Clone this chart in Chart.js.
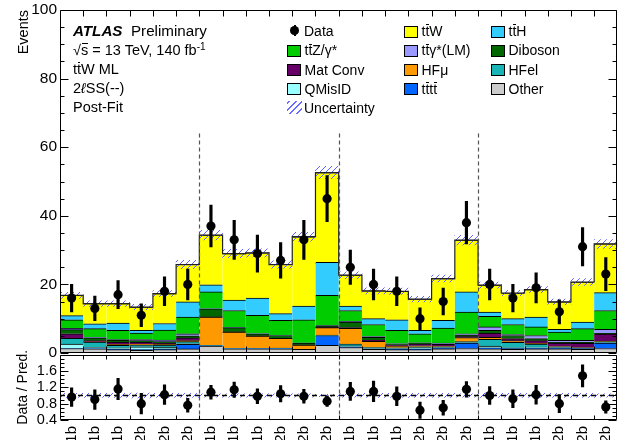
<!DOCTYPE html>
<html><head><meta charset="utf-8">
<script src="https://cdn.jsdelivr.net/npm/chart.js@4.4.1/dist/chart.umd.min.js"></script>
<style>
html,body{margin:0;padding:0;overflow:hidden;background:#fff;width:619px;height:440px}
#wrap{position:relative;width:619px;height:440px;overflow:hidden;background:#fff}
canvas{position:absolute;left:0}
.t{position:absolute;font-family:"Liberation Sans",Arial,sans-serif;font-size:14.5px;line-height:14.5px;color:#000;white-space:nowrap}
.ob{position:relative;display:inline-block}
.ob::after{content:"";position:absolute;left:0.04em;right:0.04em;top:0.02em;border-top:1px solid #000}
.box{position:absolute;width:14px;height:12px;border:1px solid #000;box-sizing:border-box}
</style></head>
<body><div id="wrap">
<canvas id="main" width="622" height="365" style="top:0"></canvas>
<canvas id="ratio" width="622" height="120" style="top:350px"></canvas>
<div id="overlay"></div>
</div>
<script>
// ---------------- data ----------------
const categories = ["1b","1b","1b","2b","2b","2b","1b","1b","1b","2b","2b","2b","1b","1b","1b","2b","2b","2b","1b","1b","1b","2b","2b","2b"];
const regionEdges = [6, 12, 18];
const other   = [1.3,1.2,1.0,0.8,1.0,1.2, 2.0,1.2,1.2,1.2,1.1,2.2, 1.6,1.1,1.0,1.0,1.2,1.3, 1.2,1.1,1.2,1.2,1.1,1.3];
const tttt    = [0,0,0.2,0.2,0.2,1.3, 0,0,0,0,0,2.9, 0.2,0.1,0.1,0.2,0.2,1.6, 0.3,0.2,0.2,0.2,0.2,1.6];
const qmisid  = [1.3,0.4,0.3,0.8,0.5,0.2, 0,0,0,0,0,0, 0.3,0.2,0.2,0.4,0.2,0.1, 0.5,0.2,0.3,0.2,0.1,0.1];
const hfel    = [1.7,1.6,0.7,0.6,0.6,0.6, 0.2,0,0.1,0.2,0,0.1, 0.5,0.2,0.2,0.2,0.2,0.3, 2.0,1.6,0.9,0.2,0.1,0.3];
const hfmu    = [0,0,0.3,0.2,0.2,0.3, 8.3,4.9,3.6,2.9,1.2,2.2, 4.6,1.8,0.6,0.3,0.2,1.2, 0.6,0.5,0.2,0.1,0.1,0.2];
const matconv = [1.3,0.4,0.7,0.6,0.4,0.8, 0,0,0,0,0,0, 0.2,0.4,0.3,0.6,0.5,0.3, 1.2,0.6,0.8,1.0,1.2,2.0];
const diboson = [1.2,0.8,0.5,0.4,0.4,0.6, 2.4,1.3,0.7,0.8,0.6,0.5, 1.6,0.8,0.3,0.2,0.2,0.4, 0.8,0.9,0.6,0.2,0.3,0.2];
const ttgamma = [0.4,0.2,0.2,0.3,0.5,0.6, 0,0,0,0,0,0.1, 0.2,0.2,0,0.1,0.2,0.4, 1.0,0.3,0.9,0.6,0.6,1.2];
const ttz     = [2.5,2.5,2.7,1.9,2.9,4.9, 4.9,5.0,5.4,4.4,6.8,8.8, 3.2,3.5,3.9,2.6,4.4,6.3, 3.1,2.9,2.5,2.4,3.4,5.5];
const tth     = [1.2,1.4,2.1,0.8,1.9,4.4, 2.1,3.0,5.0,2.0,4.0,9.6, 1.3,1.7,3.1,1.0,2.2,5.9, 1.2,1.7,2.9,0.8,1.9,5.2];
const ttw     = [5.9,5.9,5.7,6.8,8.7,10.9, 14.5,13.6,13.2,14.3,20.2,26.2, 9.0,8.1,8.3,9.1,12.2,15.1, 7.9,7.5,8.0,8.0,11.7,14.2];
const predUnc = [0.9,0.8,0.8,0.8,0.9,1.2, 1.4,1.2,1.2,1.1,1.3,1.8, 1.0,0.9,0.9,0.8,1.0,1.4, 0.9,0.8,0.9,0.8,1.0,1.3];
const dataVals = [16,13,17,11,18,20, 37,33,29,27,33,45, 25,20,18,10,15,38, 20,16,19,12,31,23];
const dataErr  = [4.0,3.6,4.1,3.3,4.2,4.5, 6.1,5.7,5.4,5.2,5.7,6.7, 5.0,4.5,4.2,3.2,3.9,6.2, 4.5,4.0,4.4,3.5,5.6,4.8];
const ratioVals = [0.96,0.90,1.16,0.80,1.02,0.76, 1.08,1.14,0.98,1.04,0.98,0.86, 1.10,1.10,0.98,0.64,0.70,1.15, 1.00,0.92,1.02,0.80,1.48,0.72];
const ratioErr  = [0.23,0.24,0.26,0.25,0.24,0.17, 0.17,0.19,0.18,0.20,0.17,0.13, 0.22,0.25,0.23,0.20,0.18,0.19, 0.22,0.22,0.23,0.22,0.27,0.15];
const ratioUnc  = [0.05,0.05,0.05,0.06,0.05,0.05, 0.04,0.04,0.04,0.04,0.04,0.03, 0.04,0.05,0.05,0.05,0.05,0.04, 0.05,0.05,0.05,0.05,0.05,0.04];
const mainTicks = [0,20,40,60,80,100];
const ratioTicks = [0.4,0.8,1.2,1.6];

// ---------------- styles ----------------
const FONT = '"Liberation Sans", Arial, sans-serif';
Chart.defaults.font.family = FONT;
Chart.defaults.color = '#000';
const colors = {other:'#cccccc', tttt:'#0066ff', qmisid:'#99ffff', hfel:'#17b5b5', hfmu:'#ff9900',
  matconv:'#660066', diboson:'#006600', ttgamma:'#9999ff', ttz:'#00cc00', tth:'#33ccff', ttw:'#ffff00'};
const OB = s => '<span class="ob">' + s + '</span>';
const names = {other:'Other', tttt:'t'+OB('t')+'t'+OB('t'), qmisid:'QMisID', hfel:'HFel', hfmu:'HF\u03bc',
  matconv:'Mat Conv', diboson:'Diboson', ttgamma:'t'+OB('t')+'\u03b3*(LM)', ttz:'t'+OB('t')+'Z/\u03b3*',
  tth:'t'+OB('t')+'H', ttw:'t'+OB('t')+'W'};
const stackList = [['other',other],['tttt',tttt],['qmisid',qmisid],['hfel',hfel],['hfmu',hfmu],['matconv',matconv],
  ['diboson',diboson],['ttgamma',ttgamma],['ttz',ttz],['tth',tth],['ttw',ttw]];
const nBins = categories.length;
const total = categories.map((_, i) => stackList.reduce((s, c) => s + c[1][i], 0));

function hatch() {
  const c = document.createElement('canvas'); c.width = 6; c.height = 6;
  const g = c.getContext('2d');
  g.strokeStyle = 'rgba(90,90,255,0.95)'; g.lineWidth = 1;
  g.beginPath(); g.moveTo(0, 6); g.lineTo(6, 0); g.moveTo(-1, 1); g.lineTo(1, -1); g.moveTo(5, 7); g.lineTo(7, 5); g.stroke();
  return g.createPattern(c, 'repeat');
}
const pat = hatch();

const framePlugin = {
  id: 'frame',
  afterDatasetsDraw(chart, args, o) {
    const ctx = chart.ctx, a = chart.chartArea;
    const xe = chart.scales.xe, ys = chart.scales[o.yId];
    ctx.save();
    const sepY = o.sepTop == null ? a.top : ys.getPixelForValue(o.sepTop);
    ctx.strokeStyle = '#555'; ctx.lineWidth = 1.2; ctx.setLineDash([4, 3]);
    regionEdges.forEach(b => {
      const px = Math.round(xe.getPixelForValue(b)) + 0.5;
      ctx.beginPath(); ctx.moveTo(px, sepY); ctx.lineTo(px, a.bottom); ctx.stroke();
    });
    ctx.setLineDash([]);
    ctx.strokeStyle = '#000'; ctx.lineWidth = 1;
    const L = Math.round(a.left) + 0.5, R = Math.round(a.right) - 0.5, T = Math.round(a.top) + 0.5, B = Math.round(a.bottom) - 0.5;
    ctx.beginPath();
    ctx.rect(L, T, R - L, B - T);
    const n = Math.round((o.yMax - o.yMin) / o.yMinor);
    for (let k = 0; k <= n; k++) {
      const v = o.yMin + k * o.yMinor;
      const py = Math.round(ys.getPixelForValue(v)) + 0.5;
      const q = v / o.yMajor, isMaj = Math.abs(q - Math.round(q)) < 1e-6;
      const len = isMaj ? o.yMajLen : o.yMinLen;
      ctx.moveTo(L, py); ctx.lineTo(L + len, py);
      ctx.moveTo(R, py); ctx.lineTo(R - len, py);
    }
    for (let e = 1; e < nBins; e++) {
      const px = Math.round(xe.getPixelForValue(e)) + 0.5;
      ctx.moveTo(px, T); ctx.lineTo(px, T + o.xLen);
      ctx.moveTo(px, B); ctx.lineTo(px, B - o.xLen);
    }
    ctx.stroke();
    ctx.restore();
  }
};

const noPadY = s => { s.width = 60; s.paddingTop = 0; s.paddingBottom = 0; };
const full = {barPercentage: 1, categoryPercentage: 1, grouped: false};
const stepPts = [];
total.forEach((t, i) => { stepPts.push({x: i, y: t}); stepPts.push({x: i + 1, y: t}); });

const mainDatasets = [
  {type: 'line', label: 'Data', data: dataVals, yAxisID: 'yd', xAxisID: 'x', showLine: false,
   pointRadius: 4.6, pointBackgroundColor: '#000', pointBorderWidth: 0, order: 0},
  {type: 'bar', label: 'DataErr', data: dataVals.map((v, i) => [v - dataErr[i], v + dataErr[i]]), yAxisID: 'yd',
   backgroundColor: '#000', barThickness: 2.5, grouped: false, order: 1},
  {type: 'line', label: 'Outline', data: stepPts, xAxisID: 'xe', yAxisID: 'yd', borderColor: '#222', borderWidth: 1.2,
   pointRadius: 0, fill: false, order: 2},
  {type: 'bar', label: 'Uncertainty', data: total.map((t, i) => [t - predUnc[i], t + predUnc[i]]), yAxisID: 'yd',
   backgroundColor: pat, borderWidth: 0, order: 3, ...full},
  ...stackList.map(([k, arr]) => ({type: 'bar', label: k, data: arr, yAxisID: 'y', backgroundColor: colors[k],
   borderColor: '#000', borderWidth: {top: 1, left: 0, right: 0, bottom: 0}, borderSkipped: false, order: 10, ...full}))
];

new Chart(document.getElementById('main'), {
  type: 'bar',
  data: {labels: categories, datasets: mainDatasets},
  plugins: [framePlugin],
  options: {
    responsive: false, animation: false, events: [],
    layout: {padding: {top: 10, bottom: 12, left: 0, right: 2}},
    plugins: {legend: {display: false}, tooltip: {enabled: false},
      frame: {yId: 'y', yMin: 0, yMax: 100, yMinor: 5, yMajor: 20, yMajLen: 8, yMinLen: 4, xLen: 6, sepTop: 64}},
    scales: {
      x: {type: 'category', stacked: true, display: false, offset: true},
      xe: {type: 'linear', min: 0, max: nBins, display: false, offset: false, grid: {offset: false}},
      y: {stacked: true, min: 0, max: 100, position: 'left',
        afterBuildTicks: s => { s.ticks = mainTicks.map(v => ({value: v})); },
        ticks: {font: {size: 15.5}, color: '#000', padding: 3},
        grid: {display: false, drawTicks: false}, border: {display: false},
        title: {display: true, text: 'Events', align: 'end', font: {size: 14.5}, color: '#000', padding: {top: 15, bottom: 0}},
        afterFit: noPadY},
      yd: {min: 0, max: 100, display: false, stacked: false}
    }
  }
});

new Chart(document.getElementById('ratio'), {
  type: 'bar',
  data: {labels: categories, datasets: [
    {type: 'line', label: 'Ratio', data: ratioVals, showLine: false, pointRadius: 4.6, pointBackgroundColor: '#000', pointBorderWidth: 0, order: 0},
    {type: 'bar', label: 'RatioErr', data: ratioVals.map((v, i) => [v - ratioErr[i], v + ratioErr[i]]), backgroundColor: '#000',
     barThickness: 2.5, grouped: false, order: 1},
    {type: 'line', label: 'One', data: [{x: 0, y: 1}, {x: nBins, y: 1}], xAxisID: 'xe', borderColor: '#000', borderWidth: 1.3,
     borderDash: [5, 4], pointRadius: 0, order: 2},
    {type: 'bar', label: 'Unc', data: ratioUnc.map(u => [1 - u, 1 + u]), backgroundColor: pat, borderWidth: 0, order: 3, ...full}
  ]},
  plugins: [framePlugin],
  options: {
    responsive: false, animation: false, events: [],
    layout: {padding: {top: 3, bottom: 0, left: 0, right: 2}},
    plugins: {legend: {display: false}, tooltip: {enabled: false},
      frame: {yId: 'y', yMin: 0.4, yMax: 2.0, yMinor: 0.1, yMajor: 0.4, yMajLen: 8, yMinLen: 4, xLen: 4, sepTop: null}},
    scales: {
      x: {type: 'category', offset: true, grid: {display: false, drawTicks: false}, border: {display: false},
        ticks: {minRotation: 90, maxRotation: 90, autoSkip: false, font: {size: 15}, color: '#000', padding: 6},
        afterFit: s => { s.height = 50; s.paddingLeft = 0; s.paddingRight = 0; }},
      xe: {type: 'linear', min: 0, max: nBins, display: false, offset: false, grid: {offset: false}},
      y: {min: 0.4, max: 2.0,
        afterBuildTicks: s => { s.ticks = ratioTicks.map(v => ({value: v})); },
        ticks: {font: {size: 14.5}, color: '#000', padding: 3, callback: v => Number(v).toFixed(1)},
        grid: {display: false, drawTicks: false}, border: {display: false},
        title: {display: true, text: 'Data / Pred.', align: 'center', font: {size: 14}, color: '#000', padding: {top: 15, bottom: 0}},
        afterFit: noPadY}
    }
  }
});

// ---------------- labels & legend (HTML text) ----------------
const ov = document.getElementById('overlay');
function txt(html, x, baseline, size, extra) {
  const d = document.createElement('div');
  d.className = 't';
  d.style.left = x + 'px';
  d.style.fontSize = size + 'px'; d.style.lineHeight = size + 'px';
  d.style.top = (baseline - 0.8465 * size) + 'px';
  if (extra) d.style.cssText += extra;
  d.innerHTML = html;
  ov.appendChild(d);
  return d;
}
const rowBase = [35.5, 54.8, 74, 93.3, 112.4];
txt('<b><i>ATLAS</i></b>&nbsp; Preliminary', 73, rowBase[0], 15.2);
txt('\u221a' + OB('s') + ' = 13 TeV, 140 fb<sup style="font-size:10px;vertical-align:5px;line-height:0">-1</sup>', 73, rowBase[1], 14.5);
txt('t' + OB('t') + 'W ML', 73, rowBase[2], 14.5);
txt('2<i>\u2113</i>SS(--)', 73, rowBase[3], 14.5);
txt('Post-Fit', 73, rowBase[4], 14.5);

const legendGrid = [
  ['data', 'ttw', 'tth'],
  ['ttz', 'ttgamma', 'diboson'],
  ['matconv', 'hfmu', 'hfel'],
  ['qmisid', 'tttt', 'other'],
  ['unc']
];
const colBox = [287, 404, 491];
legendGrid.forEach((row, r) => {
  row.forEach((k, c) => {
    const bx = colBox[c], base = rowBase[r] + 0.5;
    if (k === 'data') {
      const ln = document.createElement('div');
      ln.style.cssText = `position:absolute;left:${bx + 6.5}px;top:${base - 11}px;width:2px;height:11px;background:#000`;
      const dot = document.createElement('div');
      dot.style.cssText = `position:absolute;left:${bx + 3.2}px;top:${base - 9.8}px;width:8.6px;height:8.6px;border-radius:50%;background:#000`;
      ov.appendChild(ln); ov.appendChild(dot);
      txt('Data', bx + 17, base, 14);
    } else if (k === 'unc') {
      const h = document.createElement('div');
      h.style.cssText = `position:absolute;left:${bx}px;top:${base - 11.5}px;width:15px;height:13px;` +
        'background:repeating-linear-gradient(-45deg, transparent 0 3.5px, rgba(90,90,255,0.9) 3.5px 4.6px)';
      ov.appendChild(h);
      txt('Uncertainty', bx + 17, base, 14);
    } else {
      const b = document.createElement('div');
      b.className = 'box';
      b.style.left = bx + 'px'; b.style.top = (base - 10.5) + 'px'; b.style.background = colors[k];
      ov.appendChild(b);
      txt(names[k], bx + 17.5, base, 14);
    }
  });
});
</script>
</body></html>
